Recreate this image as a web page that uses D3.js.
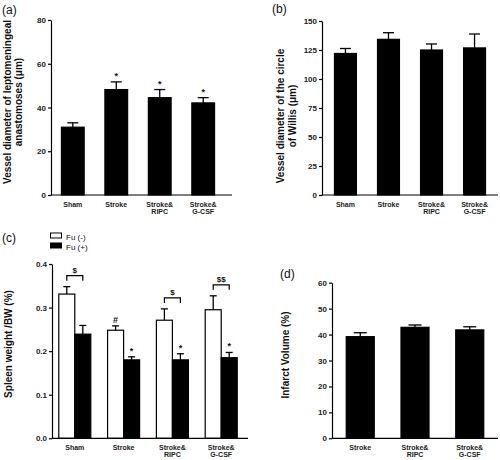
<!DOCTYPE html>
<html><head><meta charset="utf-8">
<script src="https://cdn.jsdelivr.net/npm/d3@7"></script>
<style>body{margin:0;background:#fff}svg{display:block;font-family:"Liberation Sans",Arial,sans-serif}</style>
</head><body><svg id="c" width="500" height="460"></svg>
<script>
// ---- data ----
const catsABC = [["Sham"],["Stroke"],["Stroke&","RIPC"],["Stroke&","G-CSF"]];
const catsD = [["Stroke"],["Stroke&","RIPC"],["Stroke&","G-CSF"]];
const aMean = [31, 48.2, 44.5, 42.1];
const aErr  = [2, 3.5, 3.7, 2.4];
const aSig  = ["", "*", "*", "*"];
const aTicks = [0,20,40,60,80];
const bMean = [122, 134.2, 125, 126.8];
const bErr  = [4.3, 5.7, 5.2, 12];
const bTicks = [0,25,50,75,100,125,150];
const cSeries = ["Fu (-)","Fu (+)"];
const cNeg = [0.331, 0.248, 0.271, 0.295];
const cNegErr = [0.017, 0.010, 0.026, 0.032];
const cNegSig = ["", "#", "", ""];
const cPos = [0.239, 0.180, 0.180, 0.185];
const cPosErr = [0.020, 0.007, 0.014, 0.012];
const cPosSig = ["", "*", "*", "*"];
const cBracket = ["$", "", "$", "$$"];
const cTicks = [0,0.1,0.2,0.3,0.4];
const dMean = [39.2, 42.8, 41.8];
const dErr = [1.5, 0.9, 1.2];
const dTicks = [0,10,20,30,40,50,60];

const svg = d3.select("#c");
const FONT = '"Liberation Sans",Arial,sans-serif';

function yAxis(g, y, ticks, fmt, x0){
  const ax = g.append("g").attr("transform",`translate(${x0},0)`)
    .call(d3.axisLeft(y).tickValues(ticks).tickSize(3).tickSizeOuter(0).tickFormat(fmt));
  ax.select(".domain").attr("stroke","#000").attr("stroke-width",1.2);
  ax.selectAll(".tick line").attr("stroke","#000").attr("stroke-width",1.2);
  ax.selectAll(".tick text").attr("font-family",FONT).attr("font-weight","bold").attr("font-size",8).attr("fill","#222").attr("x",-5);
}
function xAxis(g, x, cats, x0, x1, yb){
  g.append("line").attr("x1",x0).attr("x2",x1).attr("y1",yb).attr("y2",yb).attr("stroke","#000").attr("stroke-width",1.2);
  cats.forEach((lines,i)=>{
    const cx = x(i) + x.bandwidth()/2;
    const t = g.append("text").attr("text-anchor","middle").attr("font-family",FONT).attr("font-weight","bold").attr("font-size",7).attr("fill","#222");
    lines.forEach((l,j)=>t.append("tspan").attr("x",cx).attr("y",yb+12+j*7).text(l));
  });
}
function yTitle(g, lines, xs, cy){
  lines.forEach((l,j)=>g.append("text").attr("transform",`translate(${xs[j]},${cy}) rotate(-90)`)
    .attr("text-anchor","middle").attr("dy","0.35em").attr("font-family",FONT).attr("font-weight","bold").attr("font-size",10).attr("fill","#111").text(l));
}
function panelLabel(t,x,y){
  svg.append("text").attr("x",x).attr("y",y).attr("font-family",FONT).attr("font-size",12).attr("fill","#111").text(t);
}
function bars(g, x, y, means, errs, sigs, opts){
  const bw = opts.bw || x.bandwidth();
  means.forEach((m,i)=>{
    const left = opts.xpos ? opts.xpos(i) : x(i);
    const cx = left + bw/2;
    const et = y(m + errs[i]);
    g.append("line").attr("x1",cx).attr("x2",cx).attr("y1",y(m)).attr("y2",et).attr("stroke","#000").attr("stroke-width",1.3);
    g.append("line").attr("x1",cx-opts.cap/2).attr("x2",cx+opts.cap/2).attr("y1",et).attr("y2",et).attr("stroke","#000").attr("stroke-width",1.3);
    g.append("rect").attr("x",left).attr("y",y(m)).attr("width",bw).attr("height",y(0)-y(m))
      .attr("fill",opts.fill).attr("stroke","#000").attr("stroke-width",1.2);
    if (sigs && sigs[i]) g.append("text").attr("x",cx).attr("y",et-3).attr("text-anchor","middle")
      .attr("font-family",FONT).attr("font-weight","bold").attr("font-size",9).attr("fill","#111").text(sigs[i]);
  });
}

// ---- panel (a) ----
{
  const g = svg.append("g");
  const x = d3.scaleBand().domain(d3.range(4)).range([51,225]).paddingInner(0.477).paddingOuter(0.24);
  const y = d3.scaleLinear().domain([0,80]).range([195,20]);
  bars(g,x,y,aMean,aErr,aSig,{fill:"#000",cap:11});
  yAxis(g,y,aTicks,d3.format("d"),51);
  xAxis(g,x,catsABC,51,232,195);
  yTitle(g,["Vessel diameter of leptomeningeal","anastomoses (μm)"],[7,18],102);
  panelLabel("(a)",2,14);
}
// ---- panel (b) ----
{
  const g = svg.append("g");
  const x = d3.scaleBand().domain(d3.range(4)).range([322,498]).paddingInner(0.49).paddingOuter(0.29);
  const y = d3.scaleLinear().domain([0,150]).range([195,21]);
  bars(g,x,y,bMean,bErr,null,{fill:"#000",cap:11});
  yAxis(g,y,bTicks,d3.format("d"),322);
  xAxis(g,x,catsABC,322,498,195);
  yTitle(g,["Vessel diameter of the circle","of Willis (μm)"],[280,292],116);
  panelLabel("(b)",272,13);
}
// ---- panel (c) ----
{
  const g = svg.append("g");
  const x = d3.scaleBand().domain(d3.range(4)).range([50,246]).paddingInner(0.344).paddingOuter(0.18);
  const inner = d3.scaleBand().domain([0,1]).range([0,x.bandwidth()]);
  const y = d3.scaleLinear().domain([0,0.4]).range([438.3,264]);
  const bw = inner.bandwidth();
  bars(g,x,y,cNeg,cNegErr,cNegSig,{fill:"#fff",cap:7,bw:bw,xpos:i=>x(i)+inner(0)});
  bars(g,x,y,cPos,cPosErr,cPosSig,{fill:"#000",cap:7,bw:bw,xpos:i=>x(i)+inner(1)});
  // brackets
  cBracket.forEach((lab,i)=>{
    if(!lab) return;
    const x1 = x(i)+inner(0)+bw/2, x2 = x(i)+inner(1)+bw/2;
    const top = Math.min(y(cNeg[i]+cNegErr[i]), y(cPos[i]+cPosErr[i])) - 11;
    g.append("path").attr("d",`M${x1},${top+5}V${top}H${x2}V${top+5}`).attr("fill","none").attr("stroke","#000").attr("stroke-width",1.2);
    g.append("text").attr("x",(x1+x2)/2).attr("y",top-3).attr("text-anchor","middle").attr("font-family",FONT).attr("font-weight","bold").attr("font-size",8).attr("fill","#111").text(lab);
  });
  yAxis(g,y,cTicks,d3.format(".1f"),52);
  xAxis(g,x,catsABC,52,248,438.3);
  yTitle(g,["Spleen weight /BW (%)"],[8],344);
  panelLabel("(c)",2,242);
  // legend
  const fills = ["#fff","#000"];
  cSeries.forEach((s,i)=>{
    g.append("rect").attr("x",50.5).attr("y",233+i*10).attr("width",11).attr("height",5).attr("fill",fills[i]).attr("stroke","#000").attr("stroke-width",1);
    g.append("text").attr("x",66).attr("y",239.5+i*10).attr("font-family",FONT).attr("font-size",8).attr("fill","#111").text(s);
  });
}
// ---- panel (d) ----
{
  const g = svg.append("g");
  const x = d3.scaleBand().domain(d3.range(3)).range([332,498]).paddingInner(0.488).paddingOuter(0.26);
  const y = d3.scaleLinear().domain([0,60]).range([438.3,282.7]);
  bars(g,x,y,dMean,dErr,null,{fill:"#000",cap:13});
  yAxis(g,y,dTicks,d3.format("d"),332);
  xAxis(g,x,catsD,332,498,438.3);
  yTitle(g,["Infarct Volume (%)"],[285],355);
  panelLabel("(d)",280,278);
}
</script></body></html>
